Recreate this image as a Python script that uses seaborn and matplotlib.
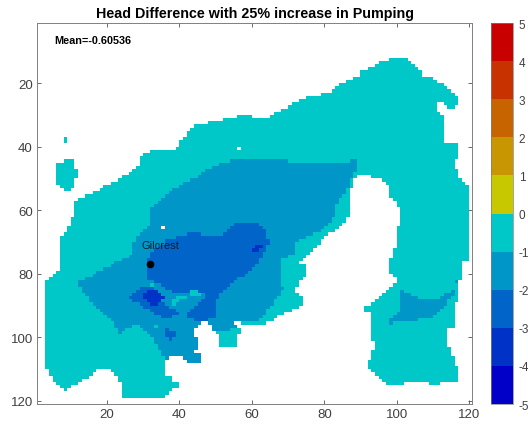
import numpy as np
import matplotlib
matplotlib.use("Agg")
import matplotlib.pyplot as plt
from matplotlib.colors import ListedColormap
import seaborn as sns

# spans are (first_row, last_row, col_from, col_to)
domain_spans = [
    (12, 12, 98, 103), (13, 13, 95, 104), (14, 14, 94, 105), (15, 15, 92, 106),
    (16, 17, 90, 107), (18, 18, 88, 110), (19, 19, 86, 111), (20, 20, 84, 113),
    (21, 21, 83, 114), (22, 22, 82, 115), (23, 23, 79, 116), (24, 24, 75, 117),
    (25, 25, 73, 117), (26, 26, 71, 111), (26, 26, 113, 117), (27, 27, 70, 111),
    (27, 27, 114, 116), (28, 28, 68, 111), (29, 29, 66, 112), (30, 30, 56, 60),
    (30, 30, 65, 113), (31, 31, 52, 113), (32, 32, 48, 113), (33, 33, 44, 113),
    (34, 34, 43, 113), (35, 36, 42, 113), (37, 37, 41, 113), (38, 38, 40, 113),
    (39, 39, 40, 117), (40, 40, 39, 117), (41, 41, 32, 117), (42, 42, 30, 117),
    (43, 43, 29, 117), (44, 45, 29, 116), (46, 46, 28, 116), (47, 47, 27, 117),
    (48, 48, 26, 117), (49, 49, 24, 89), (49, 49, 93, 117), (50, 50, 23, 88),
    (50, 50, 96, 118), (51, 51, 21, 88), (51, 51, 97, 119), (52, 52, 19, 88),
    (52, 52, 98, 120), (53, 53, 18, 87), (53, 53, 98, 120), (54, 54, 16, 87),
    (54, 54, 98, 120), (55, 55, 14, 87), (55, 55, 98, 120), (56, 56, 12, 87),
    (56, 56, 99, 120), (57, 58, 11, 87), (57, 58, 100, 120), (59, 61, 11, 87),
    (59, 61, 101, 120), (62, 63, 10, 86), (62, 64, 101, 120), (64, 64, 10, 85),
    (65, 65, 9, 84), (65, 71, 100, 120), (66, 66, 9, 83), (67, 67, 8, 81),
    (68, 68, 7, 80), (69, 70, 7, 79), (71, 71, 7, 78), (72, 72, 7, 77),
    (72, 74, 99, 120), (73, 73, 7, 76), (74, 74, 7, 75), (75, 75, 7, 74),
    (75, 75, 98, 120), (76, 76, 7, 73), (76, 79, 98, 118), (77, 78, 7, 75),
    (79, 79, 6, 75), (80, 80, 5, 75), (80, 80, 99, 118), (81, 81, 4, 74),
    (81, 81, 100, 118), (82, 82, 3, 73), (82, 82, 100, 117), (83, 83, 3, 73),
    (83, 83, 99, 117), (84, 84, 3, 72), (84, 84, 98, 117), (85, 85, 3, 72),
    (85, 85, 97, 117), (86, 86, 3, 73), (86, 86, 96, 117), (87, 87, 3, 74),
    (87, 87, 95, 117), (88, 88, 3, 74), (88, 88, 94, 117), (89, 89, 3, 74),
    (89, 89, 93, 116), (90, 90, 3, 73), (90, 91, 91, 116), (91, 91, 3, 71),
    (92, 92, 3, 69), (92, 96, 93, 116), (93, 93, 3, 67), (94, 94, 3, 66),
    (95, 95, 3, 46), (95, 95, 48, 55), (95, 95, 57, 64), (96, 96, 3, 45),
    (96, 96, 49, 56), (97, 97, 3, 44), (97, 97, 49, 57), (97, 100, 93, 114),
    (98, 98, 3, 44), (98, 98, 50, 57), (99, 99, 3, 44), (99, 102, 51, 56),
    (100, 102, 3, 45), (101, 102, 94, 114), (103, 103, 3, 45), (103, 103, 94, 115),
    (104, 104, 3, 44), (104, 105, 93, 115), (105, 105, 3, 46), (106, 106, 3, 37),
    (106, 106, 41, 46), (106, 106, 93, 116), (107, 107, 3, 36), (107, 107, 42, 46),
    (107, 108, 92, 116), (108, 109, 3, 36), (109, 109, 92, 117), (110, 110, 4, 17),
    (110, 110, 21, 36), (110, 110, 93, 117), (111, 111, 4, 16), (111, 111, 22, 36),
    (111, 111, 94, 117), (112, 112, 5, 15), (112, 112, 23, 38), (112, 112, 95, 117),
    (113, 113, 5, 13), (113, 113, 23, 38), (113, 113, 96, 117), (114, 114, 6, 12),
    (114, 114, 24, 40), (114, 114, 97, 102), (114, 114, 109, 112), (115, 115, 7, 10),
    (115, 115, 24, 40), (116, 116, 8, 9), (116, 116, 24, 38), (117, 117, 24, 37),
    (118, 118, 24, 36),
    # island on the left
    (37, 38, 8, 9), (44, 44, 8, 11), (45, 46, 6, 11), (47, 49, 6, 12),
    (50, 51, 6, 11), (52, 52, 7, 11), (53, 53, 8, 10),
]

minus2_spans = [
    (44, 44, 54, 70), (44, 44, 87, 89), (45, 45, 51, 89), (46, 46, 49, 89),
    (47, 47, 47, 89), (48, 48, 46, 88), (49, 49, 45, 88), (50, 50, 43, 87),
    (51, 51, 41, 87), (52, 52, 40, 87), (53, 53, 38, 86), (54, 54, 37, 86),
    (55, 55, 36, 85), (56, 56, 35, 84), (57, 57, 34, 84), (58, 58, 33, 83),
    (59, 61, 32, 83), (62, 63, 32, 82), (64, 64, 32, 81), (65, 65, 31, 80),
    (66, 66, 30, 79), (67, 67, 29, 77), (68, 68, 28, 75), (69, 69, 28, 73),
    (70, 73, 27, 72), (74, 74, 26, 70), (75, 75, 24, 68), (76, 76, 22, 68),
    (77, 77, 21, 68), (78, 78, 19, 68), (79, 79, 17, 68), (80, 80, 16, 68),
    (81, 81, 14, 68), (82, 83, 12, 68), (84, 84, 13, 69), (85, 85, 13, 68),
    (86, 86, 14, 68), (87, 87, 15, 67), (88, 88, 15, 66), (89, 89, 16, 66),
    (90, 90, 17, 65), (91, 91, 18, 64), (92, 92, 19, 64), (93, 93, 20, 63),
    (94, 94, 21, 62), (95, 95, 22, 55), (96, 96, 22, 27), (96, 96, 29, 56),
    (97, 97, 23, 25), (97, 97, 30, 54), (98, 98, 23, 24), (98, 98, 31, 50),
    (99, 99, 32, 46), (100, 101, 33, 46), (102, 103, 34, 46), (104, 105, 35, 46),
    (106, 107, 36, 46),
    # patch on the east side
    (82, 82, 116, 117), (85, 85, 101, 102), (85, 85, 115, 116), (86, 86, 101, 104),
    (86, 86, 113, 116), (87, 87, 101, 106), (87, 87, 112, 115), (88, 89, 101, 114),
    (90, 90, 101, 113), (91, 91, 101, 112), (92, 92, 100, 111), (93, 93, 99, 110),
    (94, 94, 98, 106), (95, 95, 98, 99),
]

minus3_spans = [
    (64, 64, 55, 62), (65, 65, 54, 63), (66, 66, 53, 64), (67, 67, 42, 46),
    (67, 67, 52, 64), (68, 68, 39, 64), (69, 70, 36, 65), (71, 71, 34, 64),
    (72, 72, 33, 64), (73, 74, 32, 63), (75, 76, 31, 62), (77, 77, 31, 61),
    (78, 78, 31, 60), (79, 79, 31, 59), (80, 80, 31, 58), (81, 81, 31, 56),
    (82, 82, 33, 55), (83, 83, 35, 54), (84, 84, 36, 53), (85, 85, 38, 52),
    (86, 87, 47, 51), (88, 88, 46, 50), (89, 89, 45, 50), (90, 90, 44, 50),
    (91, 91, 43, 50), (92, 93, 42, 50), (94, 94, 44, 48),
    # blob west of the centre
    (84, 84, 29, 33), (85, 85, 28, 34), (86, 86, 27, 35), (87, 87, 26, 35),
    (88, 88, 27, 35), (89, 89, 29, 36), (90, 90, 30, 37), (91, 91, 32, 39),
    (92, 92, 33, 40), (93, 93, 35, 38),
    # small one further south
    (97, 97, 36, 37), (98, 99, 36, 39), (100, 100, 37, 38),
]

minus4_spans = [
    (85, 85, 31, 34), (86, 86, 30, 35), (87, 87, 30, 36), (88, 88, 31, 35),
    (89, 89, 32, 34), (71, 71, 61, 63), (72, 72, 60, 62),
]

minus1_specks = [
    (83, 83, 32, 33), (85, 85, 43, 45), (86, 86, 43, 46), (87, 87, 39, 42),
    (88, 88, 38, 40), (89, 89, 38, 39), (96, 96, 33, 34),
]

blank_cells = [(40, 56), (65, 35)]

level_colors = ["#0000c8", "#0032c8", "#0064c8", "#0096c8", "#00c8c8",
                "#c8c800", "#c89600", "#c86400", "#c83200", "#c80000"]
cbar_ticks = [-5, -4, -3, -2, -1, 0, 1, 2, 3, 4, 5]
axis_ticks = [20, 40, 60, 80, 100, 120]

well_col, well_row = 32, 77

# ── build the head difference grid ──
grid = np.full((122, 122), np.nan)
for spans, value in [(domain_spans, -0.5), (minus2_spans, -1.5), (minus3_spans, -2.5),
                     (minus4_spans, -3.5), (minus1_specks, -0.5)]:
    for r0, r1, c0, c1 in spans:
        block = grid[r0:r1 + 1, c0:c1]
        if value == -0.5:
            block[:] = value
        else:
            block[~np.isnan(block)] = value
for r, c in blank_cells:
    grid[r, c] = np.nan

sns.set_theme(style="white")
plt.rcParams["font.family"] = ["Liberation Sans", "DejaVu Sans"]
plt.rcParams["axes.unicode_minus"] = False

fig = plt.figure(figsize=(5.28, 4.27), dpi=100)
ax = fig.add_axes([37 / 528, 1 - 404.5 / 427, 435 / 528, 380.5 / 427])
cax = fig.add_axes([491 / 528, 1 - 405 / 427, 22 / 528, 381 / 427])

sns.heatmap(grid, ax=ax, cbar_ax=cax, cmap=ListedColormap(level_colors),
            vmin=-5, vmax=5, square=False, xticklabels=False, yticklabels=False,
            cbar_kws={"ticks": cbar_ticks})

ax.set_xlim(0.66, 120.8)
ax.set_ylim(120.8, 1.1)
ax.set_xticks(axis_ticks)
ax.set_yticks(axis_ticks)
ax.set_xticklabels(axis_ticks, fontsize=9.5, color="#404040")
ax.set_yticklabels(axis_ticks, fontsize=9.5, color="#404040", rotation=0)
ax.tick_params(axis="both", direction="in", length=3, width=0.6, color="#505050",
               top=True, right=True, bottom=True, left=True, pad=3)
for s in ax.spines.values():
    s.set_visible(True)
    s.set_color("#808080")
    s.set_linewidth(0.7)

ax.set_title("Head Difference with 25% increase in Pumping", fontsize=10.3,
             fontweight="bold", color="black", pad=4)
ax.text(5.5, 6.3, "Mean=-0.60536", fontsize=7.8, fontweight="bold", color="black",
        va="center", ha="left")
ax.plot(well_col, well_row, "o", color="black", ms=4.5, clip_on=False)
ax.text(well_col - 2.5, well_row - 6, "Gilcrest", fontsize=8, color="#102030",
        va="center", ha="left")

cbar = ax.collections[0].colorbar
cbar.ax.set_yticklabels([str(t) for t in cbar_ticks])
cbar.ax.tick_params(labelsize=8.5, labelcolor="#404040", length=0, pad=4)
cbar.outline.set_edgecolor("#808080")
cbar.outline.set_linewidth(0.5)

fig.savefig("out.png", dpi=100)
